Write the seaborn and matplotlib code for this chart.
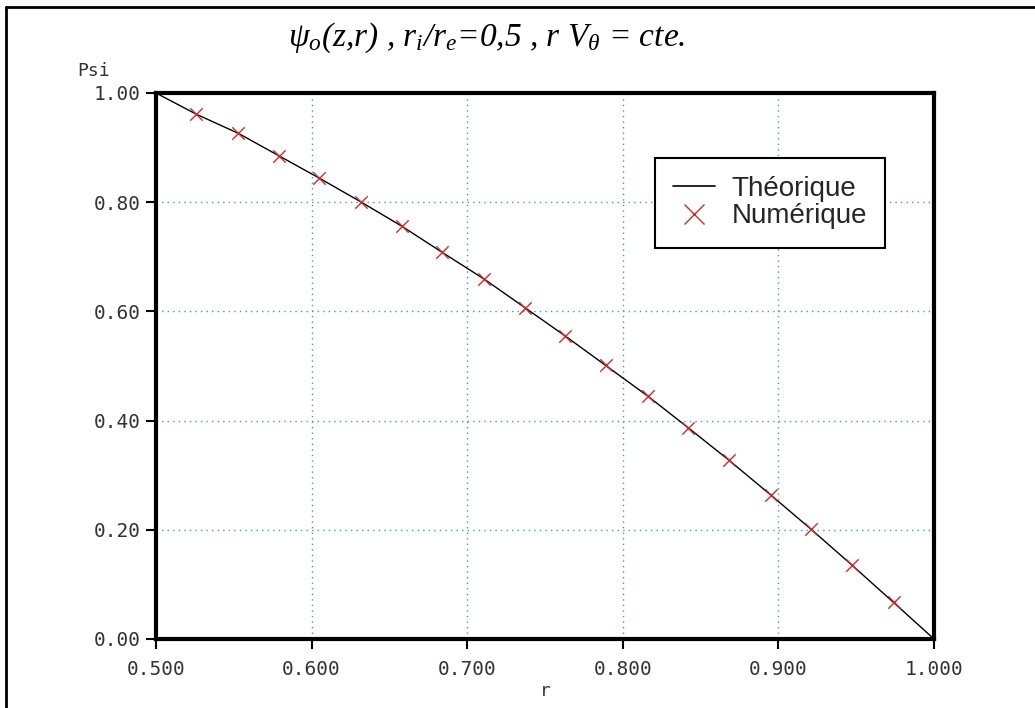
import matplotlib
matplotlib.use('Agg')
import matplotlib.pyplot as plt
import seaborn as sns
import pandas as pd
from matplotlib.lines import Line2D

# --- data ---
r_theo = [0.500, 0.526, 0.553, 0.579, 0.605, 0.632, 0.658, 0.684, 0.711, 0.737,
          0.763, 0.789, 0.816, 0.842, 0.868, 0.895, 0.921, 0.947, 0.974, 1.000]
psi_theo = [1.000, 0.961, 0.926, 0.885, 0.844, 0.800, 0.756, 0.708, 0.659, 0.607,
            0.555, 0.501, 0.445, 0.387, 0.328, 0.264, 0.201, 0.136, 0.067, 0.000]
r_num = [0.526, 0.553, 0.579, 0.605, 0.632, 0.658, 0.684, 0.711, 0.737,
         0.763, 0.789, 0.816, 0.842, 0.868, 0.895, 0.921, 0.947, 0.974]
psi_num = [0.961, 0.926, 0.885, 0.844, 0.800, 0.756, 0.708, 0.659, 0.607,
           0.555, 0.501, 0.445, 0.387, 0.328, 0.264, 0.201, 0.136, 0.067]
x_ticks = [0.5, 0.6, 0.7, 0.8, 0.9, 1.0]
x_ticklabels = ["0.500", "0.600", "0.700", "0.800", "0.900", "1.000"]
y_ticks = [0.0, 0.2, 0.4, 0.6, 0.8, 1.0]
y_ticklabels = ["0.00", "0.20", "0.40", "0.60", "0.80", "1.00"]
series_labels = ["Théorique", "Numérique"]

theo = pd.DataFrame({"r": r_theo, "psi": psi_theo})
num = pd.DataFrame({"r": r_num, "psi": psi_num})

sns.set_theme(style="white")
plt.rcParams['font.family'] = ['DejaVu Sans Mono']
plt.rcParams['mathtext.fontset'] = 'custom'
plt.rcParams['mathtext.rm'] = 'Liberation Serif'
plt.rcParams['mathtext.it'] = 'Liberation Serif:italic'
plt.rcParams['mathtext.bf'] = 'Liberation Serif:bold'
plt.rcParams['mathtext.fallback'] = 'stix'

W, H = 1035, 708
fig = plt.figure(figsize=(W / 100, H / 100), dpi=100)
fig.patch.set_facecolor('white')
ax = fig.add_axes([156 / W, 1 - 639 / H, (934 - 156) / W, (639 - 93) / H])

red = '#d42a2a'
sns.lineplot(data=theo, x="r", y="psi", ax=ax, color='black', lw=1.0,
             estimator=None, sort=False)
sns.scatterplot(data=num, x="r", y="psi", ax=ax, marker='x', s=80, color=red,
                linewidth=1.0, zorder=3)

ax.set_xlim(0.5, 1.0)
ax.set_ylim(0.0, 1.0)
ax.set_xticks(x_ticks)
ax.set_xticklabels(x_ticklabels)
ax.set_yticks(y_ticks)
ax.set_yticklabels(y_ticklabels)
ax.grid(True, color='#3d9ac8', linestyle=(0, (1, 3)), lw=1.0)
for s in ax.spines.values():
    s.set_visible(True)
    s.set_color('black')
    s.set_linewidth(3)
ax.tick_params(axis='both', direction='out', length=7, width=1.5, color='black',
               labelsize=14, labelcolor='#333333', bottom=True, left=True)
ax.tick_params(axis='y', pad=4)
ax.tick_params(axis='x', pad=8)
ax.set_xlabel("r", fontsize=13, color='#333333', labelpad=2)
ax.set_ylabel("")

# "Psi" label above y axis
fig.text(94 / W, 1 - 71 / H, "Psi", fontsize=13, color='#333333',
         ha='center', va='center')

# title (italic serif, math only for greek letters and subscripts)
fig.text(487 / W, 1 - 38 / H,
         r'$\psi_o$(z,r) , $r_i$/$r_e$=0,5 , r $V_\theta$ = cte.',
         family='Liberation Serif', style='italic',
         fontsize=24, ha='center', va='center', color='black')

# legend
handles = [Line2D([], [], color='black', lw=1.2),
           Line2D([], [], color=red, marker='x', ls='none', markersize=14, mew=1.0)]
leg = ax.legend(handles, series_labels, loc='upper left',
                bbox_to_anchor=((655 - 156) / 778, (639 - 158) / 546),
                frameon=True, fancybox=False, framealpha=1, edgecolor='black',
                prop={'family': 'Liberation Sans', 'size': 20},
                handlelength=1.5, handletextpad=0.6, borderpad=0.65,
                labelspacing=0.05, borderaxespad=0)
leg.get_frame().set_linewidth(1.5)

# outer figure border (left and top)
fig.add_artist(Line2D([6 / W, 6 / W], [0, 1 - 7 / H], transform=fig.transFigure,
                      color='black', lw=2))
fig.add_artist(Line2D([6 / W, 1], [1 - 7 / H, 1 - 7 / H], transform=fig.transFigure,
                      color='black', lw=2))

fig.savefig('out.png', dpi=100, facecolor='white')
